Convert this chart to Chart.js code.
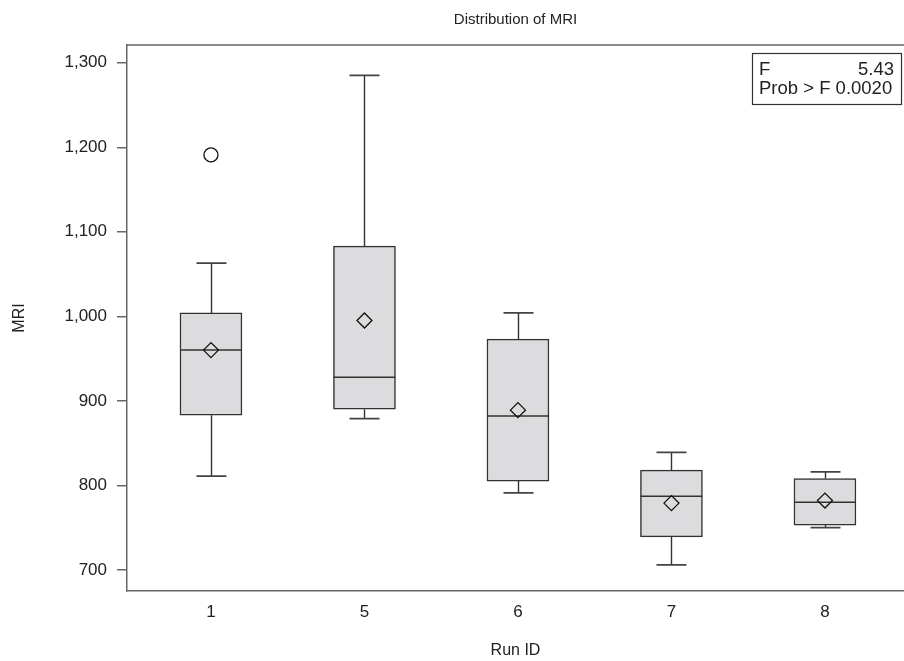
<!DOCTYPE html>
<html><head><meta charset="utf-8">
<script src="https://cdn.jsdelivr.net/npm/chart.js@4"></script>
<style>html,body{margin:0;padding:0;background:#fff;overflow:hidden}#wrap{width:904px;height:661px;position:relative}</style>
</head><body><div id="wrap"><canvas id="c"></canvas></div>
<script>
const categories = ['1', '5', '6', '7', '8'];
const whiskerLow = [811, 879, 791, 706, 750];
const q1 = [883, 890, 805, 739, 753];
const median = [960, 928, 882, 787, 780];
const q3 = [1004, 1083, 973, 818, 808];
const whiskerHigh = [1063, 1285, 1004, 839, 816];
const means = [960, 995, 889, 779, 782];
const outlierCats = [0];
const outlierValues = [1191];
const yTicks = [700, 800, 900, 1000, 1100, 1200, 1300];
const statsLabels = ['F', 'Prob > F'];
const statsValues = ['5.43', '0.0020'];

const FONT = '"Liberation Sans", Arial, Helvetica, sans-serif';
const INK = '#222';
const AXIS = '#666';

const boxPlugin = {
  id: 'boxParts',
  beforeDatasetsDraw(chart) {
    const {ctx, scales: {x, y}} = chart;
    ctx.save();
    for (let i = 0; i < categories.length; i++) {
      const px = Math.round(x.getPixelForValue(i)) + 0.5;
      ctx.strokeStyle = '#333';
      ctx.lineWidth = 1.4;
      ctx.beginPath();
      ctx.moveTo(px, y.getPixelForValue(q3[i]));
      ctx.lineTo(px, y.getPixelForValue(whiskerHigh[i]));
      ctx.moveTo(px, y.getPixelForValue(q1[i]));
      ctx.lineTo(px, y.getPixelForValue(whiskerLow[i]));
      ctx.stroke();
      const hi = y.getPixelForValue(whiskerHigh[i]);
      const lo = y.getPixelForValue(whiskerLow[i]);
      ctx.beginPath();
      ctx.moveTo(px - 15, hi); ctx.lineTo(px + 15, hi);
      ctx.moveTo(px - 15, lo); ctx.lineTo(px + 15, lo);
      ctx.lineWidth = 1.8;
      ctx.strokeStyle = '#444';
      ctx.stroke();
    }
    ctx.restore();
  },
  afterDatasetDraw(chart, args) {
    if (args.index !== 0) return;
    const {ctx, scales: {x, y}} = chart;
    ctx.save();
    ctx.strokeStyle = '#333';
    ctx.lineWidth = 1.5;
    for (let i = 0; i < categories.length; i++) {
      const px = x.getPixelForValue(i);
      const py = y.getPixelForValue(median[i]);
      ctx.beginPath();
      ctx.moveTo(px - 31, py); ctx.lineTo(px + 31, py);
      ctx.stroke();
    }
    ctx.restore();
  },
  afterDraw(chart) {
    const {ctx, chartArea} = chart;
    ctx.save();
    ctx.strokeStyle = AXIS;
    ctx.lineWidth = 1.5;
    ctx.beginPath();
    ctx.moveTo(chartArea.left, chartArea.top);
    ctx.lineTo(chartArea.right, chartArea.top);
    ctx.stroke();
    // stats box
    const bx = chartArea.right - 152, by = chartArea.top + 8, bw = 149, bh = 51;
    ctx.strokeStyle = '#333';
    ctx.lineWidth = 1.2;
    ctx.strokeRect(bx + 0.5, by + 0.5, bw, bh);
    ctx.fillStyle = INK;
    ctx.font = '18.5px ' + FONT;
    ctx.textBaseline = 'middle';
    ctx.textAlign = 'left';
    ctx.fillText(statsLabels[0], bx + 7, by + 17);
    ctx.textAlign = 'right';
    ctx.fillText(statsValues[0], bx + bw - 7, by + 17);
    ctx.textAlign = 'left';
    ctx.fillText(statsLabels[1] + ' ' + statsValues[1], bx + 7, by + 36);
    ctx.restore();
  }
};

new Chart(document.getElementById('c'), {
  type: 'bar',
  data: {
    datasets: [
      {
        label: 'Box',
        order: 2,
        data: categories.map((c, i) => ({x: i, y: [q1[i], q3[i]]})),
        backgroundColor: 'rgb(220,220,222)',
        borderColor: '#333',
        borderWidth: 1.5,
        borderSkipped: false,
        barThickness: 62
      },
      {
        type: 'scatter',
        label: 'Mean',
        order: 0,
        data: categories.map((c, i) => ({x: i, y: means[i]})),
        pointStyle: 'rectRot',
        pointRadius: 7.5,
        backgroundColor: 'rgba(0,0,0,0)',
        borderColor: '#111',
        borderWidth: 1.3
      },
      {
        type: 'scatter',
        label: 'Outlier',
        order: 0,
        data: outlierCats.map((c, i) => ({x: c, y: outlierValues[i]})),
        pointStyle: 'circle',
        pointRadius: 7,
        backgroundColor: 'rgba(0,0,0,0)',
        borderColor: '#111',
        borderWidth: 1.3
      }
    ]
  },
  options: {
    responsive: true,
    maintainAspectRatio: false,
    animation: false,
    layout: {autoPadding: false, padding: {left: 0, right: 0, top: 0, bottom: 0}},
    plugins: {
      legend: {display: false},
      tooltip: {enabled: false},
      title: {
        display: true,
        text: 'Distribution of MRI',
        fullSize: false,
        color: INK,
        font: {family: FONT, size: 15, weight: 'normal'},
        padding: {top: 11, bottom: 16}
      }
    },
    scales: {
      x: {
        type: 'linear',
        min: -0.547,
        max: 4.515,
        offset: false,
        afterBuildTicks: (s) => { s.ticks = categories.map((c, i) => ({value: i})); },
        afterFit: (s) => { s.height = 70; s.paddingLeft = 0; s.paddingRight = 0; },
        ticks: {
          callback: (v) => categories[v],
          color: INK,
          font: {family: FONT, size: 17},
          padding: 11,
          maxRotation: 0,
          autoSkip: false
        },
        grid: {display: false, drawTicks: false},
        border: {display: true, color: AXIS, width: 1.5},
        title: {
          display: true,
          text: 'Run ID',
          color: INK,
          font: {family: FONT, size: 16},
          padding: {top: 2, bottom: 1}
        }
      },
      y: {
        type: 'linear',
        min: 675,
        max: 1321,
        afterBuildTicks: (s) => { s.ticks = yTicks.map(v => ({value: v})); },
        afterFit: (s) => { s.width = 127; s.paddingTop = 0; s.paddingBottom = 0; },
        ticks: {
          callback: (v) => v.toLocaleString('en-US'),
          color: INK,
          font: {family: FONT, size: 17},
          padding: 10
        },
        grid: {display: true, drawOnChartArea: false, drawTicks: true, tickLength: 10, color: AXIS, lineWidth: 1.5},
        border: {display: true, color: AXIS, width: 1.5},
        title: {
          display: true,
          text: 'MRI',
          color: INK,
          font: {family: FONT, size: 16},
          padding: {top: 10, bottom: 10}
        }
      }
    }
  },
  plugins: [boxPlugin]
});
</script>
</body></html>
